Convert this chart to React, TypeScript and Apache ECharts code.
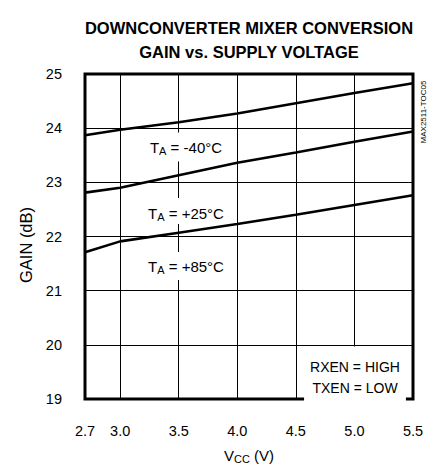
import React, { useEffect, useRef } from "react";
import * as echarts from "echarts";

const vcc = [2.7, 3.0, 3.5, 4.0, 4.5, 5.0, 5.5];
const gainM40 = [23.87, 23.97, 24.11, 24.27, 24.46, 24.65, 24.83];
const gain25 = [22.81, 22.9, 23.13, 23.36, 23.55, 23.75, 23.94];
const gain85 = [21.71, 21.91, 22.07, 22.23, 22.4, 22.58, 22.76];
const xTicks = [2.7, 3.0, 3.5, 4.0, 4.5, 5.0, 5.5];
const xGrid = [3.0, 3.5, 4.0, 4.5, 5.0];
const titleLines = ["DOWNCONVERTER MIXER CONVERSION", "GAIN vs. SUPPLY VOLTAGE"];

const FONT = "'Liberation Sans', Arial, Helvetica, sans-serif";

function pair(xs: number[], ys: number[]) {
  return xs.map((x, i) => [x, ys[i]]);
}

function taLabel(x: number, y: number, rest: string, pad: number[]) {
  return {
    type: "text",
    x,
    y,
    z: 100,
    style: {
      text: "{t|T}{s|A}{t| = " + rest + "}",
      align: "center",
      verticalAlign: "middle",
      backgroundColor: "#fff",
      padding: pad,
      rich: {
        t: { fontSize: 15, fontFamily: FONT, color: "#000", lineHeight: 18, verticalAlign: "middle" },
        s: { fontSize: 11, fontFamily: FONT, color: "#000", lineHeight: 11, verticalAlign: "bottom" },
      },
    },
  };
}

export default function App() {
  const ref = useRef<HTMLDivElement>(null);
  useEffect(() => {
    if (!ref.current) return;
    const chart = echarts.init(ref.current, null, { renderer: "svg" });
    const lineSeries = (name: string, data: number[][], extra: any = {}) => ({
      name,
      type: "line",
      data,
      symbol: "none",
      lineStyle: { color: "#000", width: 2.6 },
      silent: true,
      ...extra,
    });
    chart.setOption({
      animation: false,
      backgroundColor: "#fff",
      textStyle: { fontFamily: FONT },
      grid: {
        left: 85,
        right: 14,
        top: 74,
        bottom: 66,
        show: true,
        borderColor: "#000",
        borderWidth: 3,
        backgroundColor: "transparent",
      },
      xAxis: {
        type: "value",
        min: 2.7,
        max: 5.5,
        name: "{v|V}{sub|CC}{v| (V)}",
        nameLocation: "middle",
        nameGap: 47,
        nameTextStyle: {
          fontSize: 15,
          fontFamily: FONT,
          color: "#000",
          rich: {
            v: { fontSize: 15, fontFamily: FONT, color: "#000", lineHeight: 18, verticalAlign: "middle" },
            sub: { fontSize: 11, fontFamily: FONT, color: "#000", verticalAlign: "bottom", lineHeight: 11 },
          },
        },
        axisLine: { show: false },
        axisTick: { show: false, customValues: xTicks },
        splitLine: { show: false },
        axisLabel: {
          customValues: xTicks,
          formatter: (v: number) => v.toFixed(1),
          fontSize: 14.5,
          fontFamily: FONT,
          color: "#000",
          margin: 24,
        },
      },
      yAxis: {
        type: "value",
        min: 19,
        max: 25,
        interval: 1,
        name: "GAIN (dB)",
        nameLocation: "middle",
        nameGap: 47,
        nameTextStyle: { fontSize: 16.5, fontFamily: FONT, color: "#000", padding: [0, 17, 0, 0] },
        axisLine: { show: false },
        axisTick: { show: false },
        splitLine: { show: true, lineStyle: { color: "#000", width: 1 } },
        axisLabel: { fontSize: 14.5, fontFamily: FONT, color: "#000", margin: 23 },
      },
      series: [
        lineSeries("TA = -40°C", pair(vcc, gainM40), {
          markLine: {
            silent: true,
            symbol: "none",
            label: { show: false },
            lineStyle: { color: "#000", width: 1, type: "solid" },
            data: xGrid.map((v) => ({ xAxis: v })),
          },
        }),
        lineSeries("TA = +25°C", pair(vcc, gain25)),
        lineSeries("TA = +85°C", pair(vcc, gain85)),
      ],
      graphic: [
        {
          type: "text",
          x: 249,
          y: 28,
          z: 100,
          style: {
            text: titleLines[0],
            align: "center",
            verticalAlign: "middle",
            fontSize: 16.5,
            fontWeight: "bold",
            fontFamily: FONT,
            fill: "#000",
          },
        },
        {
          type: "text",
          x: 249,
          y: 52,
          z: 100,
          style: {
            text: titleLines[1],
            align: "center",
            verticalAlign: "middle",
            fontSize: 16.5,
            fontWeight: "bold",
            fontFamily: FONT,
            fill: "#000",
          },
        },
        taLabel(186, 147, "-40°C", [6, 4, 5, 4]),
        taLabel(186, 211, "+25°C", [6, 4, 2, 4]),
        taLabel(186, 266, "+85°C", [5, 4, 5, 4]),
        {
          type: "text",
          x: 355,
          y: 377,
          z: 100,
          style: {
            text: "RXEN = HIGH\nTXEN = LOW",
            align: "center",
            verticalAlign: "middle",
            fontSize: 14,
            lineHeight: 21,
            fontFamily: FONT,
            fill: "#000",
            backgroundColor: "#fff",
            padding: [5, 6, 14, 6],
          },
        },
        {
          type: "text",
          x: 423.5,
          y: 112,
          rotation: Math.PI / 2,
          z: 100,
          style: {
            text: "MAX2511-TOC05",
            align: "center",
            verticalAlign: "middle",
            fontSize: 8,
            fontFamily: FONT,
            fill: "#000",
          },
        },
      ],
    });
    return () => chart.dispose();
  }, []);
  return (
    <div
      ref={ref}
      style={{ position: "fixed", left: 0, top: 0, width: 427, height: 469 }}
    />
  );
}
